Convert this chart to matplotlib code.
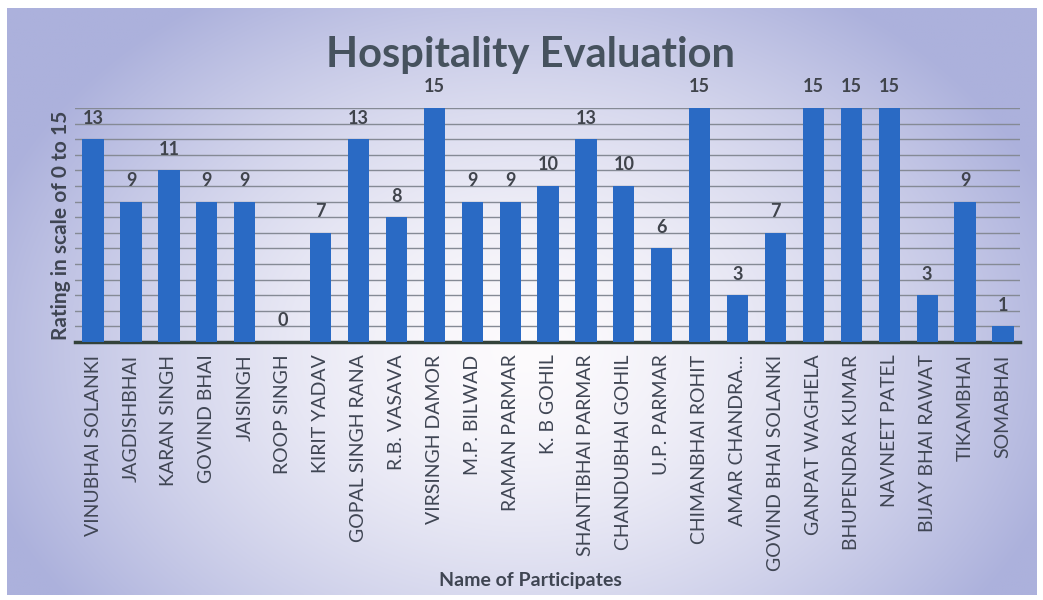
import numpy as np
import matplotlib
matplotlib.use("Agg")
import matplotlib.pyplot as plt

names = ["VINUBHAI SOLANKI", "JAGDISHBHAI", "KARAN SINGH", "GOVIND BHAI", "JAISINGH",
         "ROOP SINGH", "KIRIT YADAV", "GOPAL SINGH RANA", "R.B. VASAVA", "VIRSINGH DAMOR",
         "M.P. BILWAD", "RAMAN PARMAR", "K. B GOHIL", "SHANTIBHAI PARMAR", "CHANDUBHAI GOHIL",
         "U.P. PARMAR", "CHIMANBHAI ROHIT", "AMAR CHANDRA...", "GOVIND BHAI SOLANKI",
         "GANPAT WAGHELA", "BHUPENDRA KUMAR", "NAVNEET PATEL", "BIJAY BHAI RAWAT",
         "TIKAMBHAI", "SOMABHAI"]
ratings = [13, 9, 11, 9, 9, 0, 7, 13, 8, 15, 9, 9, 10, 13, 10, 6, 15, 3, 7, 15, 15, 15, 3, 9, 1]

title = "Hospitality Evaluation"
ylabel = "Rating in scale of 0 to 15"
xlabel = "Name of Participates"

plt.rcParams['font.family'] = ['Lato', 'DejaVu Sans']

fig = plt.figure(figsize=(10.43, 6), dpi=100)

# gradient background panel
bg = fig.add_axes([0.007, 0.008, 0.987, 0.978], zorder=-10)
h, w = 300, 520
yy, xx = np.mgrid[0:h, 0:w]
cx, cy = w * 0.5, h * 0.58
r = np.sqrt(((xx - cx) / (w * 0.55)) ** 2 + ((yy - cy) / (h * 0.72)) ** 2)
t = np.clip(r, 0, 1) ** 1.5
edge = np.array([172, 177, 220]) / 255.0
center = np.array([253, 251, 253]) / 255.0
img = center[None, None, :] * (1 - t[..., None]) + edge[None, None, :] * t[..., None]
bg.imshow(img, aspect='auto', interpolation='bilinear')
bg.axis('off')

ax = fig.add_axes([0.072, 0.43, 0.906, 0.39])
ax.set_facecolor('none')
x = np.arange(len(names))
ax.bar(x, ratings, width=0.56, color='#2a6ac4', zorder=3)
ax.set_xlim(-0.475, len(names) - 1 + 0.45)
ax.set_ylim(0, 15)
ax.set_yticks(np.arange(1, 16))
ax.yaxis.grid(True, color='#858a95', linewidth=1.0, zorder=0)
ax.tick_params(axis='y', length=0, labelleft=False)
ax.tick_params(axis='x', length=0, pad=9)
for s in ['top', 'right', 'left']:
    ax.spines[s].set_visible(False)
ax.spines['bottom'].set_color('#33423a')
ax.spines['bottom'].set_linewidth(2.5)
ax.set_xticks(x)
ax.set_xticklabels(names, rotation=90, fontsize=14, color='#404654')

for xi, v in zip(x, ratings):
    ax.annotate(str(v), (xi, v), xytext=(0, 9), textcoords='offset points',
                ha='center', va='bottom', fontsize=13, fontweight='bold',
                color='#40444c', annotation_clip=False)

ax.set_ylabel(ylabel, fontsize=15, fontweight='bold', color='#3f4552', labelpad=3)
fig.text(0.509, 0.033, xlabel, ha='center', va='center', fontsize=14,
         fontweight='bold', color='#3f4552')
fig.text(0.509, 0.908, title, ha='center', va='center', fontsize=30,
         fontweight='bold', color='#46525e')

fig.savefig('out.png', dpi=100)
